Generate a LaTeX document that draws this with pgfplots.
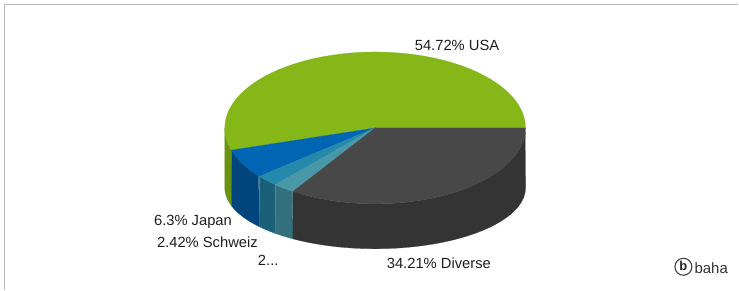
\documentclass[border=0pt]{standalone}
\usepackage{pgfplots}
\usepackage{pgfplotstable}
\pgfplotsset{compat=1.18}
\usepackage{fontspec}
\setmainfont{Liberation Sans}
\definecolor{cUSA}{RGB}{133,183,24}
\definecolor{cUSAs}{RGB}{106,148,16}
\definecolor{cJap}{RGB}{0,101,178}
\definecolor{cJaps}{RGB}{0,70,125}
\definecolor{cSch}{RGB}{37,137,172}
\definecolor{cSchs}{RGB}{26,96,120}
\definecolor{cOth}{RGB}{72,152,168}
\definecolor{cOths}{RGB}{50,112,126}
\definecolor{cDiv}{RGB}{72,72,72}
\definecolor{cDivs}{RGB}{52,52,52}
\definecolor{txt}{RGB}{30,30,30}

\pgfplotstableread{
share name
54.72 USA
6.30 Japan
2.42 Schweiz
2.35 Andere
34.21 Diverse
}\pietable

\pgfplotstablegetelem{0}{share}\of\pietable \let\sA\pgfplotsretval
\pgfplotstablegetelem{1}{share}\of\pietable \let\sB\pgfplotsretval
\pgfplotstablegetelem{2}{share}\of\pietable \let\sC\pgfplotsretval
\pgfplotstablegetelem{3}{share}\of\pietable \let\sD\pgfplotsretval
\pgfplotstablegetelem{4}{share}\of\pietable \let\sE\pgfplotsretval
\pgfmathsetmacro\aA{0}
\pgfmathsetmacro\aB{\aA+3.6*\sA}
\pgfmathsetmacro\aC{\aB+3.6*\sB}
\pgfmathsetmacro\aD{\aC+3.6*\sC}
\pgfmathsetmacro\aE{\aD+3.6*\sD}
\pgfmathsetmacro\aF{\aE+3.6*\sE}

% geometry (pixel units)
\def\cx{375.5}\def\cy{128}\def\rx{150.5}\def\ry{76}
\def\cyb{188}\def\ryb{61}

\newcommand\topface[3]{%
 \addplot[fill=#3, draw=#3, line width=0.2pt, domain=#1:#2, samples=60, variable=\t]
  ({\cx+\rx*cos(\t)}, {\cy-\ry*sin(\t)}) -- (axis cs:\cx,\cy) -- cycle;
}
\newcommand\sideface[3]{%
 \addplot[fill=#3, draw=#3, line width=0.2pt, domain=0:2, samples=81, variable=\t]
  ({\cx+\rx*cos(((\t<1) ? (#1+(#2-#1)*\t) : (#2-(#2-#1)*(\t-1))))},
   {(\t<1) ? (\cy-\ry*sin(#1+(#2-#1)*\t)) : (\cyb-\ryb*sin(#2-(#2-#1)*(\t-1)))}) -- cycle;
}
\newcommand\lbl{\fontsize{14.8}{17}\selectfont}

\begin{document}
\begin{tikzpicture}
\begin{axis}[x=1bp, y=1bp, xmin=0, xmax=739, ymin=0, ymax=290,
  y dir=reverse, hide axis, clip=false, anchor=origin, at={(0,0)}]
 \fill[white] (axis cs:0,0) rectangle (axis cs:739,290);
 \draw[gray!55, line width=1.3bp] (axis cs:4.5,290) -- (axis cs:4.5,4.5) -- (axis cs:739,4.5);
 % side faces (front half)
 \sideface{180}{\aB}{cUSAs}
 \sideface{\aB}{\aC}{cJaps}
 \sideface{\aC}{\aD}{cSchs}
 \sideface{\aD}{\aE}{cOths}
 \sideface{\aE}{360}{cDivs}
 % top faces
 \topface{\aA}{\aB}{cUSA}
 \topface{\aB}{\aC}{cJap}
 \topface{\aC}{\aD}{cSch}
 \topface{\aD}{\aE}{cOth}
 \topface{\aE}{\aF}{cDiv}
 % labels
 \node[anchor=base west, inner sep=0, font=\lbl, text=txt] at (axis cs:415,51) {54.72\% USA};
 \node[anchor=base west, inner sep=0, font=\lbl, text=txt] at (axis cs:387,269) {34.21\% Diverse};
 \node[anchor=base west, inner sep=0, font=\lbl, text=txt] at (axis cs:154,226) {6.3\% Japan};
 \node[anchor=base west, inner sep=0, font=\lbl, text=txt] at (axis cs:157,248) {2.42\% Schweiz};
 \node[anchor=base west, inner sep=0, font=\lbl, text=txt] at (axis cs:258,266) {2...};
 % logo
 \draw[black!75, line width=1.1bp] (axis cs:684,267) circle[radius=8.5bp];
 \node[inner sep=0, font=\fontsize{13}{15}\selectfont\bfseries, text=black!85] at (axis cs:684,266.5) {b};
 \node[anchor=base west, inner sep=0, font=\fontsize{15}{17}\selectfont, text=black!80] at (axis cs:695,274) {baha};
\end{axis}
\end{tikzpicture}
\end{document}
